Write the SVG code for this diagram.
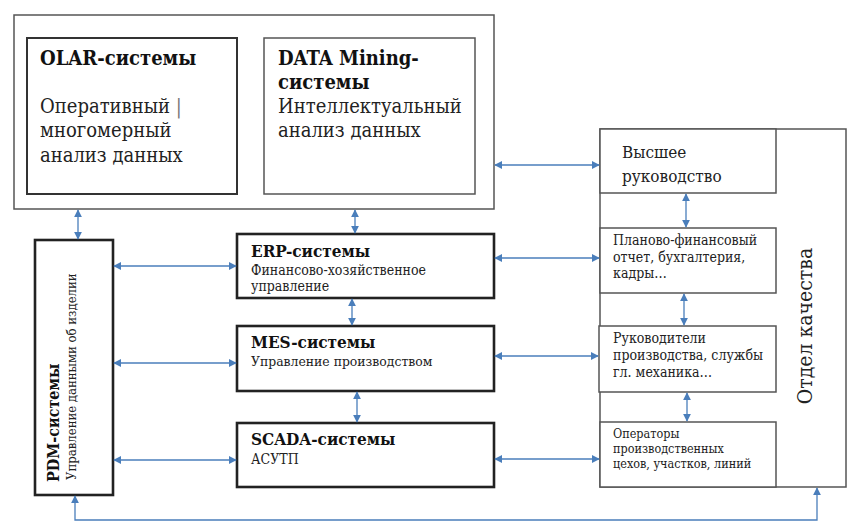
<svg xmlns="http://www.w3.org/2000/svg" width="855" height="532" viewBox="0 0 855 532">
<defs>
<marker id="ah" viewBox="0 0 10 10" refX="9" refY="5" markerWidth="8" markerHeight="8" markerUnits="userSpaceOnUse" orient="auto-start-reverse">
<path d="M0,0 L10,5 L0,10 z" fill="#4a7ebb"/>
</marker>
<style>
.t{font-family:"DejaVu Serif Condensed","DejaVu Serif",serif;fill:#222}
.h{font-weight:bold;fill:#111}
.thin{fill:#fff;stroke:#555;stroke-width:1.5}
.mid{fill:#fff;stroke:#333;stroke-width:2}
.thick{fill:#fff;stroke:#222;stroke-width:2.6}
.c{fill:none;stroke:#4a7ebb;stroke-width:1.3;marker-start:url(#ah);marker-end:url(#ah)}
</style>
</defs>
<rect width="855" height="532" fill="#fff"/>
<g id="top">
<rect class="thin" x="14" y="15" width="480" height="194"/>
</g>
<g id="olap">
<rect class="mid" x="27" y="38" width="210" height="156"/>
<text class="t h" x="40" y="65" font-size="20">OLAR-системы</text>
<text class="t" x="40" y="113" font-size="20">Оперативный <tspan fill="#777">|</tspan></text>
<text class="t" x="40" y="137" font-size="20">многомерный</text>
<text class="t" x="40" y="162" font-size="20">анализ данных</text>
</g>
<g id="datamining">
<rect class="thin" x="264" y="38" width="211" height="156"/>
<text class="t h" x="278" y="65" font-size="20">DATA Mining-</text>
<text class="t h" x="278" y="89" font-size="20">системы</text>
<text class="t" x="278" y="113" font-size="20">Интеллектуальный</text>
<text class="t" x="278" y="137" font-size="20">анализ данных</text>
</g>
<g id="quality">
<rect class="thin" x="600" y="129" width="246" height="358"/>
<text class="t" transform="translate(812,326) rotate(-90)" text-anchor="middle" font-size="21">Отдел качества</text>
</g>
<g id="top-mgmt">
<rect class="thin" x="600" y="129" width="176" height="64"/>
<text class="t" x="622" y="158" font-size="17">Высшее</text>
<text class="t" x="622" y="182" font-size="17">руководство</text>
</g>
<g id="plan">
<rect class="thin" x="600" y="228" width="176" height="65"/>
<text class="t" x="613" y="245" font-size="14">Планово-финансовый</text>
<text class="t" x="613" y="262" font-size="14">отчет, бухгалтерия,</text>
<text class="t" x="613" y="278" font-size="14">кадры…</text>
</g>
<g id="heads">
<rect class="thin" x="599" y="326" width="177" height="66"/>
<text class="t" x="613" y="343" font-size="14">Руководители</text>
<text class="t" x="613" y="360" font-size="14">производства, службы</text>
<text class="t" x="613" y="377" font-size="14">гл. механика…</text>
</g>
<g id="operators">
<rect class="thin" x="600" y="422" width="176" height="65"/>
<text class="t" x="613" y="438" font-size="12.5">Операторы</text>
<text class="t" x="613" y="453" font-size="12.5">производственных</text>
<text class="t" x="613" y="468" font-size="12.5">цехов, участков, линий</text>
</g>
<g id="pdm">
<rect class="thick" x="35" y="240" width="78" height="255"/>
<text class="t h" transform="translate(59,482) rotate(-90)" font-size="16">PDM-системы</text>
<text class="t" transform="translate(76,480) rotate(-90)" font-size="13">Управление данными об изделии</text>
</g>
<g id="erp">
<rect class="thick" x="237" y="234" width="257" height="64"/>
<text class="t h" x="251" y="257" font-size="17">ERP-системы</text>
<text class="t" x="251" y="275" font-size="14">Финансово-хозяйственное</text>
<text class="t" x="251" y="291" font-size="14">управление</text>
</g>
<g id="mes">
<rect class="thick" x="237" y="326" width="257" height="65"/>
<text class="t h" x="251" y="348" font-size="17">MES-системы</text>
<text class="t" x="251" y="366" font-size="13.8">Управление производством</text>
</g>
<g id="scada">
<rect class="thick" x="237" y="423" width="257" height="64"/>
<text class="t h" x="251" y="445" font-size="17">SCADA-системы</text>
<text class="t" x="251" y="464" font-size="14">АСУТП</text>
</g>
<g id="connectors">
<path class="c" d="M78,210 V239"/>
<path class="c" d="M355,210 V233"/>
<path class="c" d="M352,299 V325"/>
<path class="c" d="M357,392 V422"/>
<path class="c" d="M114,266 H236"/>
<path class="c" d="M114,363 H236"/>
<path class="c" d="M114,460 H236"/>
<path class="c" d="M495,258 H599"/>
<path class="c" d="M495,356 H598"/>
<path class="c" d="M495,459 H599"/>
<path class="c" d="M495,165 H599"/>
<path class="c" d="M686,194 V227"/>
<path class="c" d="M684,294 V325"/>
<path class="c" d="M687,393 V421"/>
<path class="c" d="M75,496 V520 H817 V488"/>
</g>
</svg>
